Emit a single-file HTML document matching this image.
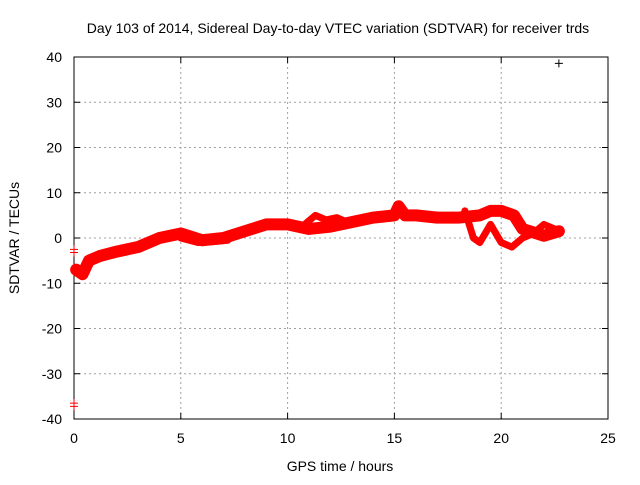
<!DOCTYPE html>
<html><head><meta charset="utf-8"><style>
body{margin:0;background:#fff;}
svg text{font-family:"Liberation Sans",sans-serif;font-size:14px;fill:#000;}
</style></head><body>
<svg id="c" width="640" height="480">
<rect width="640" height="480" fill="#fff"/>
<g id="grid"></g><g id="axes"></g><g id="data"></g>
<text x="338" y="33" text-anchor="middle">Day 103 of 2014, Sidereal Day-to-day VTEC variation (SDTVAR) for receiver trds</text>
<text x="340" y="471" text-anchor="middle">GPS time / hours</text>
<text transform="translate(19,238) rotate(-90)" text-anchor="middle">SDTVAR / TECUs</text>
</svg>
<script>
const xTicks=[0,5,10,15,20,25];
const yTicks=[-40,-30,-20,-10,0,10,20,30,40];
const mainT=[0.1,0.4,0.7,1.2,2,3,4,5,6,7,8,9,10,11,12,13,14,15,15.2,15.5,16,17,18,19,19.5,20,20.6,21,22,22.7];
const mainV=[-7,-8,-5,-4,-3,-2,0,1,-0.5,0,1.5,3,3,2,2.5,3.5,4.5,5,7,5,5,4.5,4.5,5,6,6,5,2,0.5,1.5];
const loopT=[18.3,18.7,19,19.5,20,20.5,21,21.5,22,22.5];
const loopV=[6,0,-1,3,-1,-2,0,1,3,2];
const lobeT=[10.8,11.3,11.8,12.3,12.8];
const lobeV=[3,5,4,4.5,3.5];
const lowT=[5,5.8,6.5,7.2];
const lowV=[0,-1,-0.8,-0.5];
const outT=[0,0,0,0,22.7];
const outV=[-2.5,-3.2,-36.5,-37.2,38.6];
const ns="http://www.w3.org/2000/svg";
const X=t=>74+t*(608-74)/25, Y=v=>238-v*(419-57)/80;
function mk(tag,at,p){const e=document.createElementNS(ns,tag);for(const k in at)e.setAttribute(k,at[k]);p.appendChild(e);return e;}
const g=document.getElementById('grid'),a=document.getElementById('axes'),d=document.getElementById('data');
xTicks.forEach(t=>{
 if(t>0&&t<25){const l=mk('line',{x1:X(t),x2:X(t),y1:57,y2:419,stroke:'#a0a0a0','stroke-dasharray':'2,3'},g);}
 mk('line',{x1:X(t),x2:X(t),y1:419,y2:413,stroke:'#000'},a);mk('line',{x1:X(t),x2:X(t),y1:57,y2:63,stroke:'#000'},a);
 const tx=mk('text',{x:X(t),y:443,'text-anchor':'middle'},a);tx.textContent=t;
 
});
yTicks.forEach(v=>{
 if(v>-40&&v<40){const l=mk('line',{x1:74,x2:608,y1:Y(v),y2:Y(v),stroke:'#a0a0a0','stroke-dasharray':'2,3'},g);}
 mk('line',{x1:74,x2:80,y1:Y(v),y2:Y(v),stroke:'#000'},a);mk('line',{x1:608,x2:602,y1:Y(v),y2:Y(v),stroke:'#000'},a);
 const tx=mk('text',{x:62,y:Y(v)+5,'text-anchor':'end'},a);tx.textContent=v;
 
});
const fr=mk('rect',{x:74,y:57,width:534,height:362,fill:'none',stroke:'#000'},a);

function track(T,V,w,name){
 const pl=mk('polyline',{points:T.map((t,i)=>X(t)+','+Y(V[i])).join(' '),fill:'none',stroke:'#f00','stroke-width':w,'stroke-linejoin':'round','stroke-linecap':'round'},d);
 
}
track(mainT,mainV,12,'sdtvar-main-track');
track(loopT,loopV,7,'sdtvar-loop-track');
track(lobeT,lobeV,7,'sdtvar-lobe-track');
track(lowT,lowV,7,'sdtvar-low-track');
outT.forEach((t,i)=>{
 const c=i<4?'#f00':'#000';
 const p=mk('path',{d:`M${X(t)-4},${Y(outV[i])}h8M${X(t)},${Y(outV[i])-4}v8`,stroke:c,'stroke-width':1},d);
 
});
</script>
</body></html>
